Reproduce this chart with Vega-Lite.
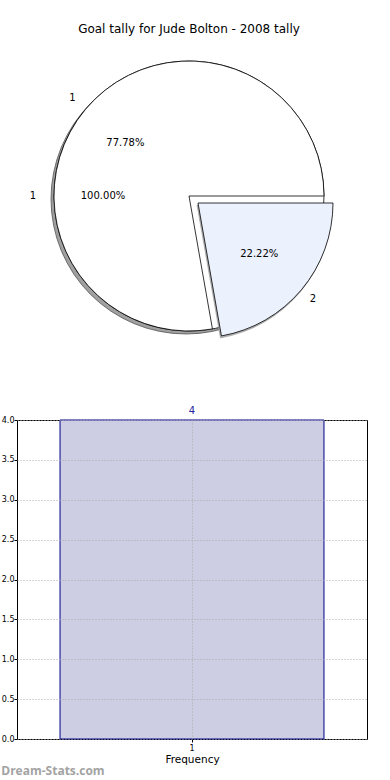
{
  "$schema": "https://vega.github.io/schema/vega-lite/v6.json",
  "background": "white",
  "padding": {"left": 0, "top": 23, "right": 18, "bottom": 0},
  "config": {"font": "DejaVu Sans", "view": {"stroke": null}},
  "spacing": 59,
  "datasets": {
    "pie1": [{"label": "1", "count": 1, "pct": "100.00%"}],
    "pie2": [
      {"label": "1", "count": 7, "pct": "77.78%", "ord": 2},
      {"label": "2", "count": 2, "pct": "22.22%", "ord": 1}
    ],
    "bars": [{"value": "1", "freq": 4}]
  },
  "vconcat": [
    {
      "width": 344,
      "height": 300,
      "title": {"text": "Goal tally for Jude Bolton - 2008 tally", "fontSize": 12, "fontWeight": "normal", "color": "black", "offset": 10},
      "resolve": {"scale": {"theta": "independent"}},
      "layer": [
        {
          "data": {"name": "pie1"},
          "mark": {"type": "arc", "radius": 135, "fill": "#a0a0a0", "stroke": "#555555", "strokeWidth": 0.8, "xOffset": -3, "yOffset": 3},
          "encoding": {"theta": {"field": "count", "type": "quantitative", "stack": true, "scale": {"range": [1.5708, 7.854]}}}
        },
        {
          "data": {"name": "pie1"},
          "mark": {"type": "arc", "radius": 135, "fill": "white", "stroke": "black", "strokeWidth": 0.8},
          "encoding": {"theta": {"field": "count", "type": "quantitative", "stack": true, "scale": {"range": [1.5708, 7.854]}}}
        },
        {
          "data": {"name": "pie2"},
          "transform": [
            {"stack": "count", "groupby": [], "sort": [{"field": "ord", "order": "ascending"}], "as": ["c0", "c1"]},
            {"filter": "datum.label == '1'"}
          ],
          "mark": {"type": "arc", "radius": 135, "fill": "white", "stroke": "black", "strokeWidth": 0.8},
          "encoding": {
            "theta": {"field": "c0", "type": "quantitative", "scale": {"domain": [0, 9], "range": [1.5708, 7.854]}},
            "theta2": {"field": "c1"}
          }
        },
        {
          "data": {"name": "pie2"},
          "transform": [
            {"stack": "count", "groupby": [], "sort": [{"field": "ord", "order": "ascending"}], "as": ["c0", "c1"]},
            {"filter": "datum.label == '2'"}
          ],
          "mark": {"type": "arc", "radius": 135, "fill": "#b4b4b4", "stroke": "#888888", "strokeWidth": 0.5, "xOffset": 8, "yOffset": 9},
          "encoding": {
            "theta": {"field": "c0", "type": "quantitative", "scale": {"domain": [0, 9], "range": [1.5708, 7.854]}},
            "theta2": {"field": "c1"}
          }
        },
        {
          "data": {"name": "pie2"},
          "transform": [
            {"stack": "count", "groupby": [], "sort": [{"field": "ord", "order": "ascending"}], "as": ["c0", "c1"]},
            {"filter": "datum.label == '2'"}
          ],
          "mark": {"type": "arc", "radius": 135, "fill": "#ebf1fd", "stroke": "black", "strokeWidth": 0.8, "xOffset": 9, "yOffset": 7},
          "encoding": {
            "theta": {"field": "c0", "type": "quantitative", "scale": {"domain": [0, 9], "range": [1.5708, 7.854]}},
            "theta2": {"field": "c1"}
          }
        },
        {
          "data": {"name": "pie1"},
          "mark": {"type": "text", "radius": 156, "fontSize": 10, "color": "black"},
          "encoding": {
            "theta": {"field": "count", "type": "quantitative", "stack": true, "scale": {"range": [1.5708, 7.854]}},
            "text": {"field": "label", "type": "nominal"}
          }
        },
        {
          "data": {"name": "pie1"},
          "mark": {"type": "text", "radius": 86, "fontSize": 10, "color": "black"},
          "encoding": {
            "theta": {"field": "count", "type": "quantitative", "stack": true, "scale": {"range": [1.5708, 7.854]}},
            "text": {"field": "pct", "type": "nominal"}
          }
        },
        {
          "data": {"name": "pie2"},
          "mark": {"type": "text", "radius": 152, "fontSize": 10, "color": "black"},
          "encoding": {
            "theta": {"field": "count", "type": "quantitative", "stack": true, "scale": {"range": [1.5708, 7.854]}},
            "order": {"field": "ord", "type": "quantitative"},
            "text": {"condition": {"test": "datum.label == '1'", "field": "label", "type": "nominal"}, "value": ""}
          }
        },
        {
          "data": {"name": "pie2"},
          "mark": {"type": "text", "radius": 83, "fontSize": 10, "color": "black"},
          "encoding": {
            "theta": {"field": "count", "type": "quantitative", "stack": true, "scale": {"range": [1.5708, 7.854]}},
            "order": {"field": "ord", "type": "quantitative"},
            "text": {"condition": {"test": "datum.label == '1'", "field": "pct", "type": "nominal"}, "value": ""}
          }
        },
        {
          "data": {"name": "pie2"},
          "mark": {"type": "text", "radius": 150, "fontSize": 10, "color": "black", "xOffset": 9, "yOffset": 7},
          "encoding": {
            "theta": {"field": "count", "type": "quantitative", "stack": true, "scale": {"range": [1.5708, 7.854]}},
            "order": {"field": "ord", "type": "quantitative"},
            "text": {"condition": {"test": "datum.label == '2'", "field": "label", "type": "nominal"}, "value": ""}
          }
        },
        {
          "data": {"name": "pie2"},
          "mark": {"type": "text", "radius": 80, "fontSize": 10, "color": "black", "xOffset": 9, "yOffset": 7},
          "encoding": {
            "theta": {"field": "count", "type": "quantitative", "stack": true, "scale": {"range": [1.5708, 7.854]}},
            "order": {"field": "ord", "type": "quantitative"},
            "text": {"condition": {"test": "datum.label == '2'", "field": "pct", "type": "nominal"}, "value": ""}
          }
        }
      ]
    },
    {
      "width": 350,
      "height": 319,
      "view": {"stroke": "black", "strokeWidth": 1},
      "title": {"text": "Dream-Stats.com", "orient": "bottom", "anchor": "start", "font": "Open Sans", "fontSize": 12, "fontWeight": "bold", "color": "#a3a3a3", "offset": 1, "dx": 0},
      "data": {"name": "bars"},
      "encoding": {
        "x": {
          "field": "value", "type": "nominal",
          "scale": {"paddingInner": 0, "paddingOuter": 0.163},
          "axis": {"labelAngle": 0, "labelFontSize": 8, "labelColor": "black", "labelPadding": 2, "tickSize": 3, "tickColor": "black", "domain": false, "grid": true, "bandPosition": 0.5, "gridDash": [1, 2], "gridColor": "#aaaaaa", "title": "Frequency", "titleFontSize": 10.5, "titleFontWeight": "normal", "titleColor": "black", "titlePadding": 2, "zindex": 1}
        },
        "y": {
          "field": "freq", "type": "quantitative",
          "scale": {"domain": [0, 4], "nice": false},
          "axis": {"values": [0, 0.5, 1, 1.5, 2, 2.5, 3, 3.5, 4], "format": ".1f", "labelFontSize": 8, "labelColor": "black", "labelPadding": 0, "tickSize": 3, "tickColor": "black", "domain": false, "grid": true, "gridDash": [1, 2], "gridColor": "#aaaaaa", "title": null, "zindex": 1}
        }
      },
      "layer": [
        {"mark": {"type": "bar", "fill": "#cdcde4", "stroke": "#00008b", "strokeWidth": 1}},
        {"mark": {"type": "text", "dy": -9, "color": "#1f1fa0", "fontSize": 10}, "encoding": {"text": {"field": "freq", "type": "quantitative"}}}
      ]
    }
  ]
}
